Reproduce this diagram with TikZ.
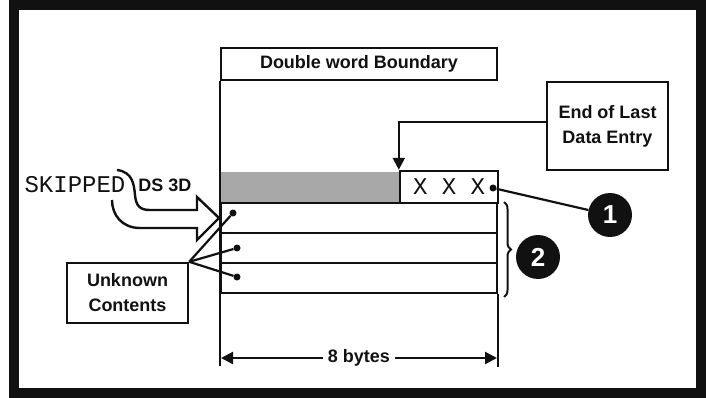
\documentclass[tikz,border=0pt]{standalone}
\usepackage{fontspec}
\setmainfont{Liberation Sans}
\setmonofont{Liberation Mono}
\usetikzlibrary{arrows.meta,decorations.pathreplacing}
\definecolor{ink}{HTML}{111111}
\definecolor{halftone}{HTML}{A8A8A8}
\begin{document}
\begin{tikzpicture}[x=1pt,y=-1pt,every node/.style={font=\bfseries\fontsize{18}{25}\selectfont,text=ink},box/.style={draw=ink,line width=2.4pt,inner sep=0pt,align=center},row/.style={draw=ink,line width=2.4pt,minimum width=276pt,minimum height=30pt,inner sep=0pt},dot/.style={circle,fill=ink,inner sep=0pt,minimum size=7pt},num/.style={circle,fill=ink,inner sep=0pt,minimum size=44pt,text=white,font=\bfseries\fontsize{26}{28}\selectfont},wire/.style={ink,line width=2.2pt},mono/.style={font=\mdseries\ttfamily\fontsize{24}{24}\selectfont}]
\useasboundingbox (0,0) rectangle (706,398);
\draw[ink,line width=10pt] (14,5) rectangle (701,393);
\node[box,minimum width=276pt,minimum height=32pt] (dwb) at (359,64){Double word Boundary};
\fill[halftone] (221,172) rectangle (400,202);
\node[box,mono,minimum width=98pt,minimum height=32pt] (xxx) at (449,187){X X X};
\node[row] (row1) at (359,218){};\node[row] (row2) at (359,248){};\node[row] (row3) at (359,278){};
\draw[wire] (dwb.south west) -- (dwb.south west |- 0,366);\draw[wire] (row3.south east) -- ++(0,73);
\coordinate (dl) at (221,358);\coordinate (dr) at (497,358);
\draw[wire,{Triangle[length=12pt,width=12pt]}-{Triangle[length=12pt,width=12pt]}] (dl) -- (dr) node[midway,fill=white,inner sep=5pt]{8 bytes};
\node[box,minimum width=121pt,minimum height=88pt] (eolde) at (607.5,126){End of Last\\Data Entry};
\draw[wire,-{Triangle[length=12pt,width=12pt]}] ([yshift=4pt]eolde.west) -| (xxx.north west);
\node[dot] (dx) at (493,188){};\node[num] (c1) at (610,215){1};\draw[wire] (dx) -- (c1);
\draw[ink,line width=2pt,decorate,decoration={brace,amplitude=7pt}] (504,202) -- (504,297);
\node[num] (c2) at (538,257){2};
\node[box,minimum width=121pt,minimum height=60pt] (unk) at (127.5,293){Unknown\\Contents};
\node[dot] (d1) at (233,213){};\node[dot] (d2) at (237,248){};\node[dot] (d3) at (237,277){};
\foreach \d in {d1,d2,d3} \draw[wire] (unk.north east) -- (\d);
\node[mono] (skp) at (75,185){SKIPPED};\node (ds) at (165,185){DS 3D};
\draw[ink,line width=2.4pt,line join=miter] (117,170) .. controls (133,172) and (134,185) .. (135,195) .. controls (136,206) and (140,210) .. (150,210) -- (197,210) -- (197,197) -- (219,218) -- (197,240) -- (197,228) -- (140,228) .. controls (122,228) and (112,215) .. (112,200);
\end{tikzpicture}
\end{document}
